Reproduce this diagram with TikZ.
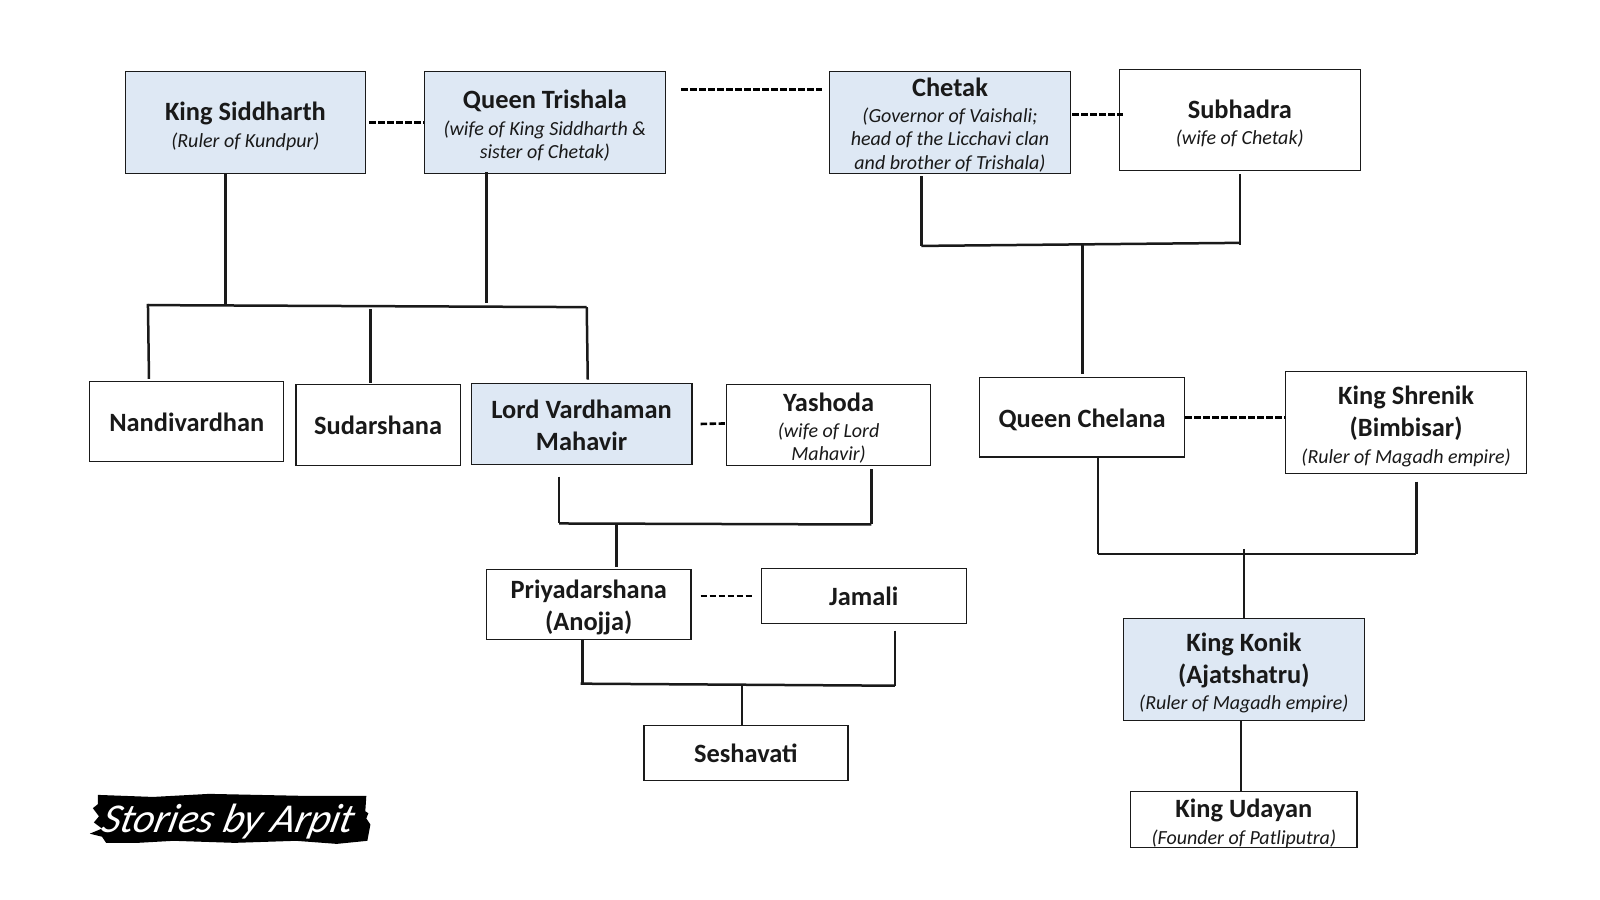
\documentclass[tikz,border=0pt]{standalone}
\usepackage{fontspec}
\usetikzlibrary{calc}
\setmainfont{Carlito}
\definecolor{boxblue}{HTML}{DEE8F4}
\definecolor{inkline}{HTML}{1A1A1A}
\tikzset{
 x=1.02041pt,y=-1.02041pt,
 person/.style={draw=inkline,line width=1.4pt,fill=white,align=center,inner sep=0pt,text=black!90,font=\fontsize{26.4}{32}\selectfont\bfseries},
 royal/.style={person,fill=boxblue},
 solidline/.style={draw=inkline,line width=2.5pt},
 spouse/.style={draw=black,line width=2.6pt,dash pattern=on 6.5pt off 2.5pt},
 logotext/.style={text=white,inner sep=0pt,font=\fontsize{41}{41}\selectfont\itshape},
}
\newcommand{\note}[1]{{\fontsize{20}{24}\selectfont\mdseries\itshape #1}}
\newcommand{\dn}[1]{\rule{0pt}{\dimexpr 19pt+2\dimexpr #1pt\relax\relax}}
\newcommand{\pbox}[7]{\node[#6,minimum width={(#4-#2)*1.02041pt},minimum height={(#5-#3)*1.02041pt}] (#1) at ({(#2+#4)/2},{(#3+#5)/2}) {#7};}
\begin{document}
\begin{tikzpicture}
\useasboundingbox (0,0) rectangle (1568,882);
\fill[white] (0,0) rectangle (1568,882);
\pbox{ks}{123}{70}{358}{170}{royal}{\dn{4}King Siddharth\\[-5pt]\note{(Ruler of Kundpur)}}
\pbox{qt}{416}{70}{652}{170}{royal}{\dn{3}Queen Trishala\\[-5.5pt]\note{(wife of King Siddharth \&}\\[-8.5pt]\note{sister of Chetak)}}
\pbox{ch}{813}{70}{1049}{170}{royal}{\dn{2.5}Chetak\\[-6.5pt]\note{(Governor of Vaishali;}\\[-8.5pt]\note{head of the Licchavi clan}\\[-8.5pt]\note{and brother of Trishala)}}
\pbox{su}{1097}{68}{1333}{167}{person}{\dn{3.5}Subhadra\\[-5.5pt]\note{(wife of Chetak)}}
\pbox{na}{88}{374}{278}{452}{person}{\dn{1}Nandivardhan}
\pbox{sd}{290}{377}{451}{456}{person}{Sudarshana}
\pbox{lv}{462}{376}{678}{455}{royal}{\dn{1.5}Lord Vardhaman\\Mahavir}
\pbox{ya}{712}{377}{912}{456}{person}{\dn{3}Yashoda\\[-6.5pt]\note{(wife of Lord}\\[-8.5pt]\note{Mahavir)}}
\pbox{qc}{960}{370}{1161}{448}{person}{\dn{2.5}Queen Chelana}
\pbox{sh}{1260}{364}{1496}{464}{person}{\dn{4}King Shrenik\\(Bimbisar)\\[-5.5pt]\note{(Ruler of Magadh empire)}}
\pbox{pr}{477}{558}{677}{627}{person}{\dn{3}Priyadarshana\\(Anojja)}
\pbox{ja}{746}{557}{947}{611}{person}{Jamali}
\pbox{se}{631}{711}{831}{765}{person}{Seshavati}
\pbox{ko}{1101}{606}{1337}{706}{royal}{\dn{3.5}King Konik\\(Ajatshatru)\\[-5.5pt]\note{(Ruler of Magadh empire)}}
\pbox{ud}{1108}{776}{1330}{830}{person}{\dn{3.5}King Udayan\\[-5pt]\note{(Founder of Patliputra)}}
% junction coordinates
\coordinate (ksdown) at (221,298);
\coordinate (qtdown) at (477,297);
\coordinate (barL) at (145,299);
\coordinate (barR) at (575,301);
\coordinate (barM) at (363,303);
\coordinate (naup) at (146,370);
\coordinate (sdup) at (363,375);
\coordinate (lvup) at (576,372);
\coordinate (chdown) at (903,241);
\coordinate (sudown) at (1215,240);
\coordinate (subar) at (1215,238);
\coordinate (chbar) at (1061,240);
\coordinate (qcup) at (1061,367);
\coordinate (lvdown) at (548,513);
\coordinate (yadown) at (854,514);
\coordinate (lvtop) at (548,467);
\coordinate (yatop) at (854,460);
\coordinate (lvbar) at (604,513);
\coordinate (prup) at (604,556);
\coordinate (prdown) at (571,670);
\coordinate (jadown) at (877,672);
\coordinate (jatop) at (877,618);
\coordinate (prbarL) at (569,670);
\coordinate (prbar) at (727,671);
\coordinate (qcdown) at (1076,543);
\coordinate (shdown) at (1388,543);
\coordinate (shtop) at (1388,472);
\coordinate (qcbar) at (1219,538);
\coordinate (koud) at (1216,740);
% descent lines
\draw[solidline] (ks.south -| ksdown) -- (ksdown);
\draw[solidline] ($(qt.south -| qtdown)+(0,-2)$) -- (qtdown);
\draw[solidline] (barL) -- (barR);
\draw[solidline,line cap=rect] (barL) -- (naup);
\draw[solidline] (barM) -- (sdup);
\draw[solidline] (barR) -- (lvup);
\draw[solidline] ($(ch.south -| chdown)+(0,2)$) -- (chdown);
\draw[solidline] ($(su.south -| sudown)+(0,3)$) -- (sudown);
\draw[solidline] (chdown) -- (subar);
\draw[solidline] (chbar) -- (qcup);
\draw[solidline] (lvtop) -- (lvdown);
\draw[solidline] (yatop) -- (yadown);
\draw[solidline] (lvdown) -- (yadown);
\draw[solidline] (lvbar) -- (prup);
\draw[solidline] (pr.south -| prdown) -- (prdown);
\draw[solidline] (jatop) -- (jadown);
\draw[solidline] (prbarL) -- (jadown);
\draw[solidline] (prbar) -- (se.north -| prbar);
\draw[solidline] (qc.south -| qcdown) -- (qcdown);
\draw[solidline] (shtop) -- (shdown);
\draw[solidline] (qcdown) -- (shdown);
\draw[solidline] (qcbar) -- (ko.north -| qcbar);
\draw[solidline] (ko.south -| koud) -- (ud.north -| koud);
% marriage links
\draw[spouse] ($(ks.east)+(3,0)$) -- (qt.west);
\draw[spouse] ($(qt.east)+(15,-32)$) -- ($(ch.west)+(-7,-32)$);
\draw[spouse] ($(ch.east)+(1,-8)$) -- ($(su.west)+(4,-5.5)$);
\draw[spouse] ($(lv.east)+(8,0)$) -- ($(ya.west)+(-1,-1.5)$);
\draw[spouse] (qc.east) -- (sh.west |- qc.east);
\draw[spouse] ($(pr.east)+(9,-8.5)$) -- ($(ja.west)+(-6,0)$);
% brush logo
\fill[black] (96,779) -- (150,781) -- (205,778) -- (300,780) -- (359,780) -- (358,795) -- (361,797) -- (359,802)
 -- (363,808) -- (360,824) -- (330,827) -- (290,824) -- (230,826) -- (170,824) -- (135,826) -- (104,826) -- (100,820)
 -- (88,817) -- (100,812) -- (92,806) -- (97,800) -- (91,792) -- (96,788) -- cycle;
\node[logotext,xslant=0.25] (logo) at (224,805) {Stories by Arpit};
\end{tikzpicture}
\end{document}
